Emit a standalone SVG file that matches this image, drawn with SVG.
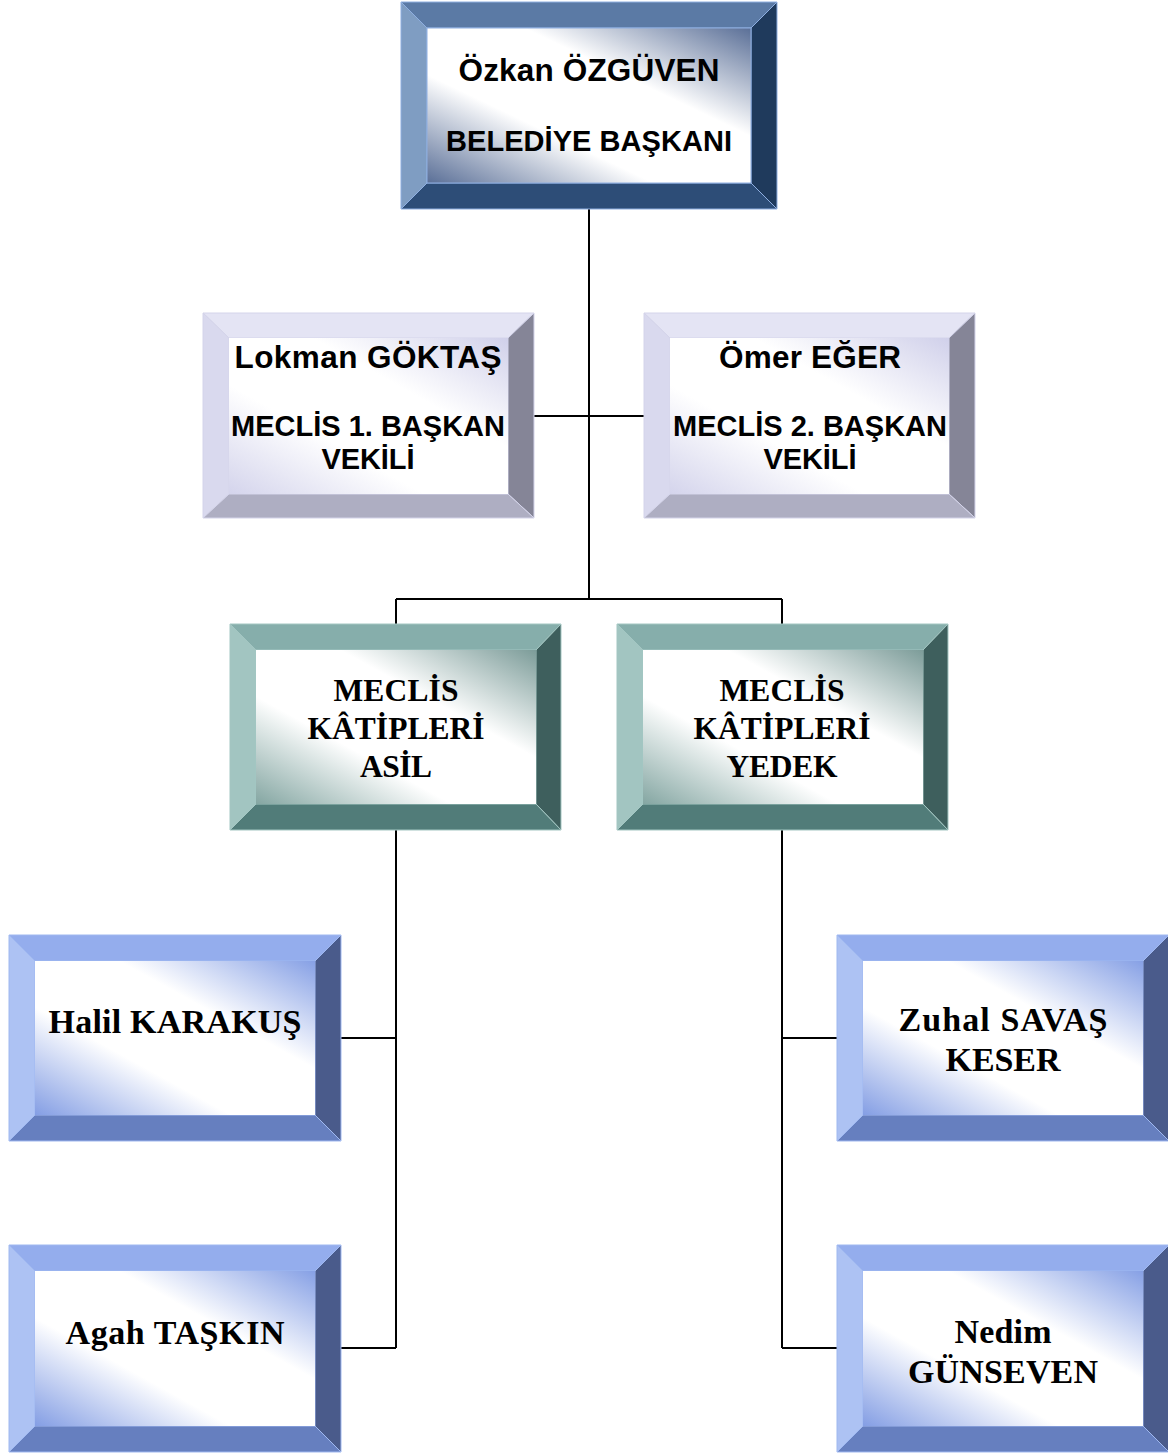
<svg xmlns="http://www.w3.org/2000/svg" width="1168" height="1454" viewBox="0 0 1168 1454">
<defs>
<linearGradient id="gT" x1="1" y1="0" x2="0" y2="1"><stop offset="0" stop-color="#5a6f97"/><stop offset="0.35" stop-color="#ffffff"/><stop offset="0.65" stop-color="#ffffff"/><stop offset="1" stop-color="#5a6f97"/></linearGradient>
<linearGradient id="gL" x1="1" y1="0" x2="0" y2="1"><stop offset="0" stop-color="#d0d0ea"/><stop offset="0.35" stop-color="#ffffff"/><stop offset="0.65" stop-color="#ffffff"/><stop offset="1" stop-color="#d4d4ec"/></linearGradient>
<linearGradient id="gG" x1="1" y1="0" x2="0" y2="1"><stop offset="0" stop-color="#7c9c99"/><stop offset="0.35" stop-color="#ffffff"/><stop offset="0.65" stop-color="#ffffff"/><stop offset="1" stop-color="#84a6a2"/></linearGradient>
<linearGradient id="gB" x1="1" y1="0" x2="0" y2="1"><stop offset="0" stop-color="#86a0e5"/><stop offset="0.35" stop-color="#ffffff"/><stop offset="0.65" stop-color="#ffffff"/><stop offset="1" stop-color="#849ee4"/></linearGradient>
</defs>
<style>
.a{font-family:"Liberation Sans",Arial,sans-serif;font-weight:bold;fill:#000;text-anchor:middle}
.s{font-family:"Liberation Serif","Times New Roman",serif;font-weight:bold;fill:#000;text-anchor:middle}
.T polygon{stroke:#8eaee0;stroke-width:1}
.T .t{fill:#5b7aa5}.T .l{fill:#7f9dc2}.T .r{fill:#1f3a5c}.T .b{fill:#2d4d77}
.L polygon{stroke:#d4d4ea;stroke-width:1}
.L .t{fill:#e4e4f4}.L .l{fill:#d9d9ee}.L .r{fill:#858597}.L .b{fill:#aeaec2}
.G polygon{stroke:#a3c6c2;stroke-width:1}
.G .t{fill:#86aeab}.G .l{fill:#a2c5c1}.G .r{fill:#3e5f5d}.G .b{fill:#517c79}
.B polygon{stroke:#9fb8f0;stroke-width:1}
.B .t{fill:#94aded}.B .l{fill:#adc2f3}.B .r{fill:#4a5b8b}.B .b{fill:#667fbf}
.con{fill:none;stroke:#000;stroke-width:2}
</style>

<g id="connectors">
<path class="con" d="M589,209 V599 M534,416 H644 M396,599 H782 M396,599 V624 M782,599 V624 M396,830 V1348 M341,1038 H396 M341,1348 H396 M782,830 V1348 M782,1038 H837 M782,1348 H837"/>
</g>

<g id="node-baskan" class="T">
<polygon class="t" points="401,2 777,2 751,28 427,28"/>
<polygon class="l" points="401,2 427,28 427,183 401,209"/>
<polygon class="r" points="777,2 777,209 751,183 751,28"/>
<polygon class="b" points="401,209 427,183 751,183 777,209"/>
<rect x="427" y="28" width="324" height="155" fill="url(#gT)" stroke="#8eaee0" stroke-width="1"/>
<text class="a" x="589" y="81" font-size="31.5" textLength="261">Özkan ÖZGÜVEN</text>
<text class="a" x="589" y="151" font-size="29" textLength="286">BELEDİYE BAŞKANI</text>
</g>

<g id="node-vekil1" class="L">
<polygon class="t" points="203,313 534,313 508,338 229,338"/>
<polygon class="l" points="203,313 229,338 229,494 203,518"/>
<polygon class="r" points="534,313 534,518 508,494 508,338"/>
<polygon class="b" points="203,518 229,494 508,494 534,518"/>
<rect x="229" y="338" width="279" height="156" fill="url(#gL)"/>
<text class="a" x="368" y="368" font-size="31.5" textLength="267">Lokman GÖKTAŞ</text>
<text class="a" x="368" y="436" font-size="29" textLength="274">MECLİS 1. BAŞKAN</text>
<text class="a" x="368" y="469" font-size="29" textLength="93">VEKİLİ</text>
</g>

<g id="node-vekil2" class="L">
<polygon class="t" points="644,313 975,313 949,338 670,338"/>
<polygon class="l" points="644,313 670,338 670,494 644,518"/>
<polygon class="r" points="975,313 975,518 949,494 949,338"/>
<polygon class="b" points="644,518 670,494 949,494 975,518"/>
<rect x="670" y="338" width="279" height="156" fill="url(#gL)"/>
<text class="a" x="810" y="368" font-size="31.5" textLength="182">Ömer EĞER</text>
<text class="a" x="810" y="436" font-size="29" textLength="274">MECLİS 2. BAŞKAN</text>
<text class="a" x="810" y="469" font-size="29" textLength="93">VEKİLİ</text>
</g>

<g id="node-katip-asil" class="G">
<polygon class="t" points="230,624 561,624 536,650 256,650"/>
<polygon class="l" points="230,624 256,650 256,804 230,830"/>
<polygon class="r" points="561,624 561,830 536,804 536,650"/>
<polygon class="b" points="230,830 256,804 536,804 561,830"/>
<rect x="256" y="650" width="280" height="154" fill="url(#gG)"/>
<text class="s" x="396" y="701" font-size="31.5" textLength="125">MECLİS</text>
<text class="s" x="396" y="739" font-size="31.5" textLength="177">KÂTİPLERİ</text>
<text class="s" x="396" y="777" font-size="31.5" textLength="72">ASİL</text>
</g>

<g id="node-katip-yedek" class="G">
<polygon class="t" points="617,624 948,624 923,650 643,650"/>
<polygon class="l" points="617,624 643,650 643,804 617,830"/>
<polygon class="r" points="948,624 948,830 923,804 923,650"/>
<polygon class="b" points="617,830 643,804 923,804 948,830"/>
<rect x="643" y="650" width="280" height="154" fill="url(#gG)"/>
<text class="s" x="782" y="701" font-size="31.5" textLength="125">MECLİS</text>
<text class="s" x="782" y="739" font-size="31.5" textLength="177">KÂTİPLERİ</text>
<text class="s" x="782" y="777" font-size="31.5" textLength="111">YEDEK</text>
</g>

<g id="node-halil" class="B">
<polygon class="t" points="9,935 341,935 315,961 35,961"/>
<polygon class="l" points="9,935 35,961 35,1115 9,1141"/>
<polygon class="r" points="341,935 341,1141 315,1115 315,961"/>
<polygon class="b" points="9,1141 35,1115 315,1115 341,1141"/>
<rect x="35" y="961" width="280" height="154" fill="url(#gB)"/>
<text class="s" x="175" y="1033" font-size="34" textLength="253">Halil KARAKUŞ</text>
</g>

<g id="node-agah" class="B">
<polygon class="t" points="9,1245 341,1245 315,1271 35,1271"/>
<polygon class="l" points="9,1245 35,1271 35,1426 9,1452"/>
<polygon class="r" points="341,1245 341,1452 315,1426 315,1271"/>
<polygon class="b" points="9,1452 35,1426 315,1426 341,1452"/>
<rect x="35" y="1271" width="280" height="155" fill="url(#gB)"/>
<text class="s" x="175" y="1344" font-size="34" textLength="219">Agah TAŞKIN</text>
</g>

<g id="node-zuhal" class="B">
<polygon class="t" points="837,935 1169,935 1143,961 863,961"/>
<polygon class="l" points="837,935 863,961 863,1115 837,1141"/>
<polygon class="r" points="1169,935 1169,1141 1143,1115 1143,961"/>
<polygon class="b" points="837,1141 863,1115 1143,1115 1169,1141"/>
<rect x="863" y="961" width="280" height="154" fill="url(#gB)"/>
<text class="s" x="1003" y="1031" font-size="34" textLength="209">Zuhal SAVAŞ</text>
<text class="s" x="1003" y="1071" font-size="34" textLength="115">KESER</text>
</g>

<g id="node-nedim" class="B">
<polygon class="t" points="837,1245 1169,1245 1143,1271 863,1271"/>
<polygon class="l" points="837,1245 863,1271 863,1426 837,1452"/>
<polygon class="r" points="1169,1245 1169,1452 1143,1426 1143,1271"/>
<polygon class="b" points="837,1452 863,1426 1143,1426 1169,1452"/>
<rect x="863" y="1271" width="280" height="155" fill="url(#gB)"/>
<text class="s" x="1003" y="1343" font-size="34" textLength="97">Nedim</text>
<text class="s" x="1003" y="1383" font-size="34" textLength="190">GÜNSEVEN</text>
</g>
</svg>
